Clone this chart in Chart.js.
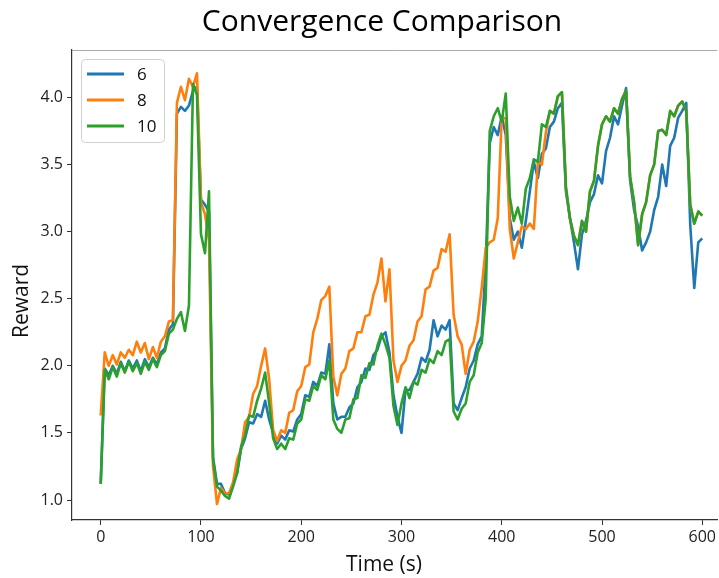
<!DOCTYPE html>
<html>
<head>
<meta charset="utf-8">
<script src="https://cdn.jsdelivr.net/npm/chart.js@4.4.1/dist/chart.umd.min.js"></script>
<style>
html,body{margin:0;padding:0;background:#fff;}
canvas{display:block;}
</style>
</head>
<body>
<canvas id="c" width="719" height="578"></canvas>
<script>
// ---- data ----
const times = [
  0,4,8,12,16,20,24,28,32,36,
  40,44,48,52,56,60,64,68,72,76,
  80,84,88,92,96,100,104,108,112,116,
  120,124,128,132,136,140,144,148,152,156,
  160,164,168,172,176,180,184,188,192,196,
  200,204,208,212,216,220,224,228,232,236,
  240,244,248,252,256,260,264,268,272,276,
  280,284,288,292,296,300,304,308,312,316,
  320,324,328,332,336,340,344,348,352,356,
  360,364,368,372,376,380,384,388,392,396,
  400,404,408,412,416,420,424,428,432,436,
  440,444,448,452,456,460,464,468,472,476,
  480,484,488,492,496,500,504,508,512,516,
  520,524,528,532,536,540,544,548,552,556,
  560,564,568,572,576,580,584,588,592,596,
  600
];
const seriesLabels = ['6', '8', '10'];

const reward6 = [
  1.12,1.98,1.93,2.00,1.94,2.03,1.96,2.04,1.98,2.04,
  1.96,2.05,1.99,2.06,2.01,2.10,2.13,2.27,2.31,3.88,
  3.93,3.90,3.94,4.05,4.08,3.24,3.20,3.15,1.32,1.12,
  1.12,1.05,1.04,1.12,1.20,1.38,1.46,1.58,1.57,1.64,
  1.62,1.74,1.60,1.50,1.42,1.48,1.45,1.52,1.51,1.60,
  1.64,1.78,1.77,1.88,1.85,1.95,1.94,2.16,1.72,1.60,
  1.62,1.62,1.69,1.72,1.84,1.88,1.98,1.97,2.08,2.12,
  2.22,2.25,2.10,1.78,1.62,1.50,1.82,1.82,1.88,1.94,
  2.06,2.03,2.12,2.34,2.22,2.30,2.27,2.34,1.72,1.67,
  1.76,1.84,1.98,2.04,2.16,2.22,2.76,3.66,3.78,3.72,
  3.86,3.72,3.10,2.94,3.00,2.88,3.08,3.30,3.52,3.40,
  3.58,3.62,3.78,3.82,3.92,3.96,3.30,3.10,2.92,2.72,
  2.98,3.08,3.22,3.28,3.42,3.36,3.60,3.70,3.86,3.80,
  3.94,4.07,3.38,3.16,3.04,2.86,2.92,3.00,3.16,3.26,
  3.50,3.34,3.64,3.70,3.85,3.90,3.96,3.05,2.58,2.92,
  2.95
];

const reward8 = [
  1.63,2.10,2.00,2.08,2.01,2.10,2.06,2.12,2.08,2.18,
  2.10,2.17,2.05,2.14,2.06,2.18,2.22,2.33,2.34,3.96,
  4.08,3.98,4.14,4.08,4.18,3.22,3.13,2.94,1.25,0.97,
  1.09,1.05,1.05,1.13,1.30,1.38,1.58,1.62,1.79,1.85,
  2.00,2.13,1.90,1.52,1.44,1.52,1.50,1.65,1.67,1.81,
  1.85,1.99,2.01,2.25,2.35,2.49,2.52,2.59,1.92,1.78,
  1.94,1.98,2.11,2.13,2.25,2.25,2.37,2.38,2.53,2.62,
  2.80,2.48,2.72,2.04,1.88,2.00,2.04,2.15,2.19,2.33,
  2.37,2.57,2.59,2.71,2.73,2.87,2.85,2.98,2.38,2.22,
  2.16,1.94,2.12,2.18,2.33,2.58,2.88,2.92,2.94,3.10,
  3.86,3.84,3.02,2.80,2.92,3.04,3.02,3.06,3.02,3.52,
  3.50,3.74,3.90,3.88,4.01,4.04,3.33,3.10,2.97,2.90,
  3.08,3.00,3.30,3.38,3.64,3.80,3.86,3.82,3.92,3.88,
  3.99,4.05,3.41,3.22,2.90,3.13,3.22,3.42,3.50,3.75,
  3.76,3.72,3.90,3.86,3.94,3.97,3.90,3.20,3.06,3.15,
  3.12
];

const reward10 = [
  1.12,1.97,1.90,1.99,1.92,2.02,1.95,2.03,1.96,2.02,
  1.94,2.03,1.97,2.05,1.99,2.08,2.11,2.24,2.27,2.35,
  2.40,2.26,2.45,4.10,4.02,2.98,2.84,3.30,1.30,1.10,
  1.07,1.03,1.01,1.10,1.20,1.40,1.48,1.63,1.62,1.74,
  1.83,1.95,1.72,1.46,1.38,1.42,1.38,1.46,1.45,1.57,
  1.60,1.75,1.74,1.85,1.82,1.93,1.90,2.04,1.60,1.53,
  1.50,1.60,1.61,1.75,1.76,1.93,1.91,2.02,2.01,2.15,
  2.24,2.16,2.06,1.70,1.56,1.72,1.84,1.76,1.88,1.86,
  1.97,1.95,2.05,2.02,2.11,2.08,2.18,2.20,1.66,1.60,
  1.68,1.72,1.88,1.93,2.10,2.17,2.50,3.75,3.86,3.92,
  3.82,4.03,3.26,3.08,3.18,3.06,3.32,3.40,3.54,3.52,
  3.80,3.78,3.90,3.88,4.01,4.04,3.33,3.10,2.97,2.90,
  3.08,3.00,3.30,3.38,3.64,3.80,3.86,3.82,3.92,3.88,
  3.99,4.05,3.41,3.22,2.90,3.13,3.22,3.42,3.50,3.75,
  3.76,3.72,3.90,3.86,3.94,3.97,3.90,3.20,3.06,3.15,
  3.12
];

const xTickValues = [0, 100, 200, 300, 400, 500, 600];
const yTickValues = [1.0, 1.5, 2.0, 2.5, 3.0, 3.5, 4.0];
const chartTitle = 'Convergence Comparison';
const xAxisTitle = 'Time (s)';
const yAxisTitle = 'Reward';

// ---- styling ----
const colors = ['#1f77b4', '#ff7f0e', '#2ca02c'];
const FONT = '"Open Sans", "DejaVu Sans", sans-serif';
const seriesValues = [reward6, reward8, reward10];

const datasets = seriesValues.map((vals, k) => ({
  label: seriesLabels[k],
  data: times.map((t, i) => ({ x: t, y: vals[i] })),
  borderColor: colors[k],
  backgroundColor: colors[k],
  borderWidth: 2.6,
  pointRadius: 0,
  tension: 0,
  fill: false,
  borderJoinStyle: 'round',
  order: seriesValues.length - k
}));

const decor = {
  id: 'decor',
  afterDraw(chart) {
    const { ctx, chartArea: a } = chart;
    ctx.save();
    // top spine
    ctx.strokeStyle = '#aaaaaa';
    ctx.lineWidth = 1;
    ctx.beginPath();
    ctx.moveTo(a.left, a.top + 0.5);
    ctx.lineTo(a.right, a.top + 0.5);
    ctx.stroke();
    // title
    ctx.fillStyle = '#000';
    ctx.textAlign = 'center';
    ctx.textBaseline = 'middle';
    ctx.font = '30px ' + FONT;
    ctx.fillText(chartTitle, 382, 22);
    // axis titles
    ctx.font = '21px ' + FONT;
    ctx.fillStyle = '#111';
    ctx.fillText(xAxisTitle, 384, 565);
    ctx.save();
    ctx.translate(22, 301);
    ctx.rotate(-Math.PI / 2);
    ctx.fillText(yAxisTitle, 0, 0);
    ctx.restore();
    // legend box
    const bx = 81, by = 59, bw = 83, bh = 83;
    ctx.beginPath();
    ctx.roundRect(bx + 0.5, by + 0.5, bw, bh, 4);
    ctx.fillStyle = 'rgba(255,255,255,0.85)';
    ctx.fill();
    ctx.strokeStyle = '#d0d0d0';
    ctx.lineWidth = 1;
    ctx.stroke();
    ctx.font = '17px ' + FONT;
    ctx.textAlign = 'left';
    ctx.textBaseline = 'middle';
    chart.data.datasets.forEach((ds, k) => {
      const y = 74 + 26 * k;
      ctx.strokeStyle = ds.borderColor;
      ctx.lineWidth = 2.8;
      ctx.beginPath();
      ctx.moveTo(87, y);
      ctx.lineTo(124, y);
      ctx.stroke();
      ctx.fillStyle = '#111';
      ctx.fillText(ds.label, 137, y + 1);
    });
    ctx.restore();
  }
};

new Chart(document.getElementById('c'), {
  type: 'line',
  data: { datasets },
  plugins: [decor],
  options: {
    responsive: false,
    animation: false,
    devicePixelRatio: 1,
    layout: { padding: { top: 50, left: 0, right: 0, bottom: 0 } },
    plugins: { legend: { display: false }, tooltip: { enabled: false }, title: { display: false } },
    scales: {
      x: {
        type: 'linear',
        min: -28.65,
        max: 614.9,
        afterBuildTicks: s => { s.ticks = xTickValues.map(v => ({ value: v })); },
        afterFit: s => { s.height = 58; },
        ticks: { font: { family: FONT, size: 16 }, color: '#222', padding: 3, maxRotation: 0, autoSkip: false,
                 callback: v => String(v) },
        grid: { drawOnChartArea: false, drawTicks: true, tickLength: 5, color: '#333' },
        border: { display: true, color: '#333', width: 1.2 }
      },
      y: {
        type: 'linear',
        min: 0.851,
        max: 4.354,
        afterBuildTicks: s => { s.ticks = yTickValues.map(v => ({ value: v })); },
        afterFit: s => { s.width = 72; },
        ticks: { font: { family: FONT, size: 16 }, color: '#222', padding: 4, autoSkip: false,
                 callback: v => Number(v).toFixed(1) },
        grid: { drawOnChartArea: false, drawTicks: true, tickLength: 5, color: '#333' },
        border: { display: true, color: '#333', width: 1.2 }
      }
    }
  }
});
</script>
</body>
</html>
